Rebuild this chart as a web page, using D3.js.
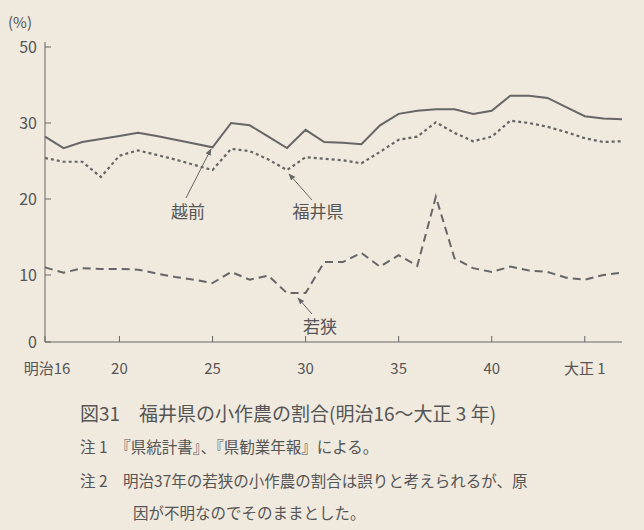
<!DOCTYPE html><html><head><meta charset="utf-8">
<script src="https://cdn.jsdelivr.net/npm/d3@7/dist/d3.min.js"></script>
<style>body{margin:0;background:#efe9de}text{font-family:"Noto Sans CJK JP",serif;fill:#555}</style></head><body>
<svg id="c" width="644" height="530"></svg>
<script>
const years=d3.range(16,48);
const echizen=[28.2,26.7,27.5,27.9,28.3,28.7,28.3,27.8,27.3,26.8,30.0,29.7,28.2,26.7,29.1,27.5,27.4,27.2,29.7,31.2,31.6,31.8,31.8,31.2,31.6,33.6,33.6,33.3,32.1,30.9,30.6,30.5];
const fukui=[25.4,24.9,24.9,22.9,25.7,26.4,25.8,25.2,24.5,23.8,26.6,26.3,25.2,23.8,25.5,25.3,25.1,24.7,26.2,27.8,28.2,30.1,28.7,27.6,28.2,30.3,30.0,29.5,28.8,28.0,27.5,27.6];
const wakasa=[11.0,10.3,10.9,10.8,10.8,10.7,10.2,9.7,9.3,8.8,10.4,9.3,9.9,7.3,7.3,11.7,11.7,12.9,11.1,12.6,11.2,20.3,12.2,10.9,10.4,11.1,10.6,10.4,9.6,9.3,10.0,10.3];
const xTicks=[16,20,25,30,35,40,45];
const xLabels=["明治16","20","25","30","35","40","大正 1"];
const yTicks=[0,10,20,30];
const yTop=50;
const svg=d3.select("#c");
const x=d3.scaleLinear().domain([16,47]).range([45,622]);
const y=d3.scaleLinear().domain([0,10,40]).range([342,275,47]);
const col="#666";
svg.append("line").attr("x1",45).attr("x2",45).attr("y1",42).attr("y2",342).attr("stroke",col);
svg.append("line").attr("x1",45).attr("x2",622).attr("y1",342).attr("y2",342).attr("stroke",col);
const tickPos=t=>t===yTop?y(40):y(t);
yTicks.concat([yTop]).forEach(t=>{svg.append("line").attr("x1",45).attr("x2",51).attr("y1",tickPos(t)).attr("y2",tickPos(t)).attr("stroke",col);
 svg.append("text").attr("x",37).attr("y",tickPos(t)+6).attr("text-anchor","end").attr("font-size",16).text(t);});
svg.append("text").attr("x",8).attr("y",28).attr("font-size",15).text("(%)");
xTicks.forEach((t,i)=>{svg.append("line").attr("x1",x(t)).attr("x2",x(t)).attr("y1",342).attr("y2",336).attr("stroke",col);
 svg.append("text").attr("x",i==0?x(t)+2:x(t)).attr("y",374).attr("text-anchor","middle").attr("font-size",15).text(xLabels[i]);});
const line=d3.line().x((d,i)=>x(years[i])).y(d=>y(d));
svg.append("path").attr("d",line(echizen)).attr("fill","none").attr("stroke",col).attr("stroke-width",2);
svg.append("path").attr("d",line(fukui)).attr("fill","none").attr("stroke",col).attr("stroke-width",2.2).attr("stroke-dasharray","3,3");
svg.append("path").attr("d",line(wakasa)).attr("fill","none").attr("stroke",col).attr("stroke-width",2).attr("stroke-dasharray","8,5");
svg.append("defs").append("marker").attr("id","ar").attr("viewBox","0 0 10 10").attr("refX",9).attr("refY",5).attr("markerWidth",7).attr("markerHeight",7).attr("orient","auto")
 .append("path").attr("d","M0,1L10,5L0,9z").attr("fill",col);
function ann(tx,ty,label,x1,y1,x2,y2){svg.append("line").attr("x1",x1).attr("y1",y1).attr("x2",x2).attr("y2",y2).attr("stroke",col).attr("marker-end","url(#ar)");
 svg.append("text").attr("x",tx).attr("y",ty).attr("font-size",17).attr("text-anchor","middle").text(label);}
ann(188,218,"越前",186,198,211,149);
ann(318,218,"福井県",312,200,289,174);
ann(320,333,"若狭",312,314,298,298);
svg.append("text").attr("x",80).attr("y",421).attr("font-size",19).text("図31　福井県の小作農の割合(明治16〜大正 3 年)");
svg.append("text").attr("x",80).attr("y",453).attr("font-size",15.5).text("注 1　『県統計書』、『県勧業年報』による。");
svg.append("text").attr("x",80).attr("y",487).attr("font-size",15.5).text("注 2　明治37年の若狭の小作農の割合は誤りと考えられるが、原");
svg.append("text").attr("x",133).attr("y",519).attr("font-size",15.5).text("因が不明なのでそのままとした。");
</script></body></html>
